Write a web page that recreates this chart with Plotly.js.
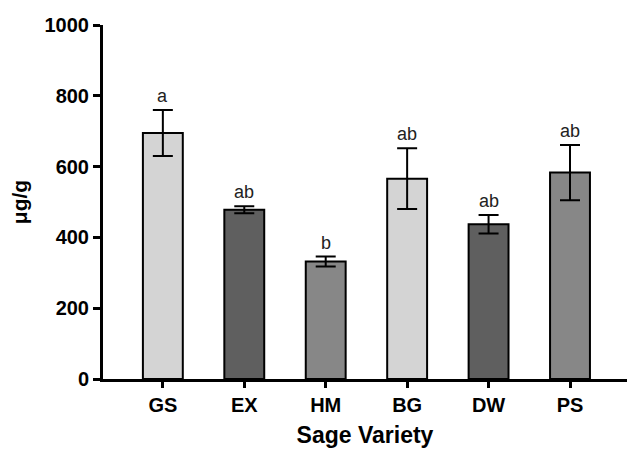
<!DOCTYPE html>
<html>
<head>
<meta charset="utf-8">
<script src="https://cdn.plot.ly/plotly-3.0.1.min.js"></script>
<style>html,body{margin:0;padding:0;background:#fff;}</style>
</head>
<body>
<div id="chart" style="width:627px;height:450px;"></div>
<script>
const categories = ["GS", "EX", "HM", "BG", "DW", "PS"];
const means = [695, 478, 332, 566, 437, 583];
const errors = [65, 10, 14, 86, 26, 78];
const letters = ["a", "ab", "b", "ab", "ab", "ab"];
const barColors = ["#d4d4d4", "#5f5f5f", "#878787", "#d4d4d4", "#5f5f5f", "#878787"];

const trace = {
  type: "bar",
  x: categories,
  y: means,
  width: 0.49,
  marker: {color: barColors, line: {color: "#000", width: 2}},
  error_y: {type: "data", array: errors, visible: true, color: "#000", thickness: 2, width: 10},
  hoverinfo: "none"
};

const annotations = categories.map((c, i) => ({
  x: c, y: means[i] + errors[i], xref: "x", yref: "y",
  text: letters[i], showarrow: false, yanchor: "bottom", yshift: 2,
  font: {family: "Liberation Sans, Arial, sans-serif", size: 18, color: "#222"}
}));

const layout = {
  width: 627, height: 450,
  margin: {l: 103, r: 0, t: 25, b: 71},
  paper_bgcolor: "#fff", plot_bgcolor: "#fff",
  showlegend: false,
  font: {family: "Liberation Sans, Arial, sans-serif", color: "#000"},
  xaxis: {
    type: "category",
    range: [-0.735, 5.7],
    showline: true, linecolor: "#000", linewidth: 3,
    ticks: "outside", ticklen: 6, tickwidth: 3, tickcolor: "#000",
    showgrid: false, zeroline: false,
    tickfont: {size: 20, family: "Liberation Sans, Arial, sans-serif", weight: "bold"},
    title: {text: "<b>Sage Variety</b>", font: {size: 23}, standoff: 12}
  },
  yaxis: {
    range: [0, 1000],
    tickvals: [0, 200, 400, 600, 800, 1000],
    showline: true, linecolor: "#000", linewidth: 3,
    ticks: "outside", ticklen: 7, tickwidth: 3, tickcolor: "#000",
    showgrid: false, zeroline: false,
    tickfont: {size: 20, family: "Liberation Sans, Arial, sans-serif", weight: "bold"},
    title: {text: "<b>μg/g</b>", font: {size: 21}, standoff: 12}
  },
  annotations: annotations
};

Plotly.newPlot("chart", [trace], layout, {displayModeBar: false, staticPlot: true});
</script>
</body>
</html>
